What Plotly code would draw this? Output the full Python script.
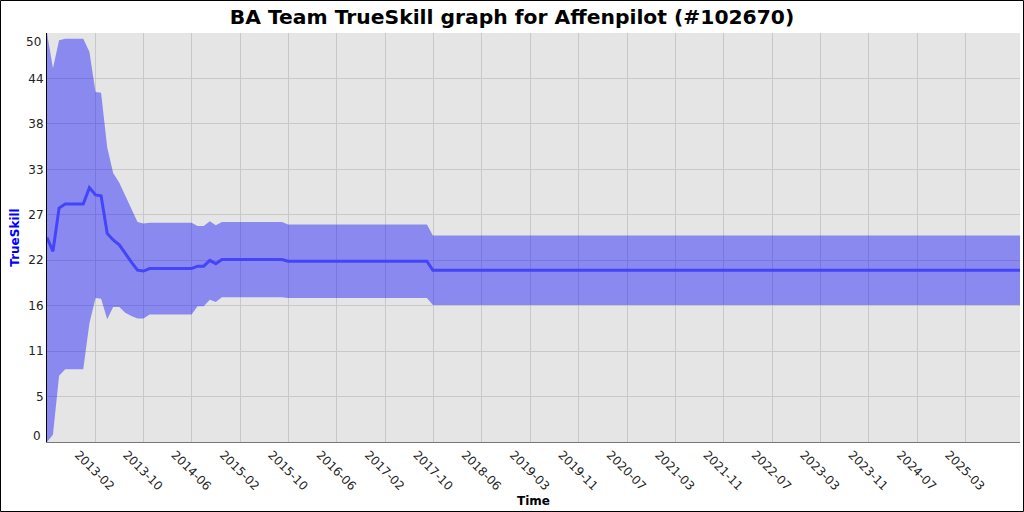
import pandas as pd
import plotly.graph_objects as go

# ---- data ----
dates = [
    "2012-06-26", "2012-07-26", "2012-08-26", "2012-09-26", "2012-12-26",
    "2013-01-26", "2013-02-26", "2013-03-26", "2013-04-26", "2013-05-26",
    "2013-06-26", "2013-07-26", "2013-08-26", "2013-09-26", "2013-10-26",
    "2013-11-26", "2014-06-26", "2014-07-26", "2014-08-26", "2014-09-26",
    "2014-10-26", "2014-11-26", "2015-09-26", "2015-10-26", "2017-09-26",
    "2017-10-26", "2025-12-07",
]
mu = [
    25.0, 23.3, 28.6, 29.1, 29.1,
    31.1, 30.2, 30.1, 25.5, 24.7,
    24.1, 23.0, 22.0, 21.0, 20.9,
    21.2, 21.2, 21.5, 21.5, 22.2,
    21.8, 22.3, 22.3, 22.1, 22.1,
    21.0, 21.0,
]
three_sigma = [
    25.0, 22.4, 20.5, 20.2, 20.2,
    16.6, 12.6, 12.6, 10.5, 8.2,
    7.6, 7.2, 6.6, 5.9, 5.8,
    5.6, 5.6, 4.9, 4.9, 4.8,
    4.7, 4.6, 4.6, 4.5, 4.5,
    4.25, 4.25,
]
upper = [m + s for m, s in zip(mu, three_sigma)]
lower = [m - s for m, s in zip(mu, three_sigma)]

x_tick_labels = [
    "2013-02", "2013-10", "2014-06", "2015-02", "2015-10", "2016-06",
    "2017-02", "2017-10", "2018-06", "2019-03", "2019-11", "2020-07",
    "2021-03", "2021-11", "2022-07", "2023-03", "2023-11", "2024-07",
    "2025-03",
]
y_tick_labels = ["0", "5", "11", "16", "22", "27", "33", "38", "44", "50"]

# ---- layout helpers (axis positions only) ----
tick_start = pd.Timestamp("2013-02-24 02:24")
tick_step = pd.Timedelta(days=244.1)
x_tick_vals = [tick_start + k * tick_step for k in range(len(x_tick_labels))]
y_tick_vals = [k * 50 / 9 for k in range(len(y_tick_labels))]

FONT = "DejaVu Sans"
W, H = 1024, 512
ML, MR, MT, MB = 47, 4, 33, 70
PW, PH = W - ML - MR, H - MT - MB

fig = go.Figure()
fig.add_trace(go.Scatter(
    x=dates, y=lower, mode="lines", line=dict(width=0, color="rgba(0,0,255,0)"),
    hoverinfo="skip", showlegend=False,
))
fig.add_trace(go.Scatter(
    x=dates, y=upper, mode="lines", line=dict(width=0, color="rgba(0,0,255,0)"),
    fill="tonexty", fillcolor="rgba(0,0,255,0.4)", hoverinfo="skip", showlegend=False,
))
fig.add_trace(go.Scatter(
    x=dates, y=mu, mode="lines", line=dict(width=3, color="rgb(68,68,250)"),
    showlegend=False,
))

# inner y tick labels through the axis; end labels drawn just inside like the original
inner_text = [t if 0 < i < len(y_tick_labels) - 1 else "" for i, t in enumerate(y_tick_labels)]

fig.update_layout(
    template="none",
    width=W, height=H,
    margin=dict(l=ML, r=MR, t=MT, b=MB, autoexpand=False),
    paper_bgcolor="white",
    plot_bgcolor="rgb(229,229,229)",
    title=dict(
        text="BA Team TrueSkill graph for Affenpilot (#102670)",
        x=0.5, xanchor="center", y=1 - 17 / H, yanchor="middle",
        font=dict(family=FONT, size=20.3, color="black", weight="bold"),
    ),
    font=dict(family=FONT, size=12, color="#222"),
    xaxis=dict(
        type="date",
        range=[dates[0], dates[-1]],
        tickvals=x_tick_vals, ticktext=x_tick_labels,
        tickangle=45, ticklabelshift=-17,
        tickfont=dict(family=FONT, size=12, color="#222"),
        showgrid=True, gridcolor="rgb(200,200,200)", gridwidth=1,
        zeroline=False, ticks="",
        showline=True, linecolor="rgb(120,120,120)", linewidth=1,
        title=dict(text="Time", font=dict(family=FONT, size=12, color="black", weight="bold"),
                   standoff=4),
    ),
    yaxis=dict(
        range=[0, 50],
        tickvals=y_tick_vals, ticktext=inner_text,
        tickfont=dict(family=FONT, size=12, color="#222"),
        showgrid=True, gridcolor="rgb(200,200,200)", gridwidth=1,
        zeroline=False, ticks="",
        showline=True, linecolor="black", linewidth=1,
        title=dict(text="TrueSkill", font=dict(family=FONT, size=12, color="blue", weight="bold"),
                   standoff=6),
    ),
)

# end y labels (0 and 50) placed slightly inside the plot height, as in the reference
for val, text, dy in [(y_tick_vals[0], y_tick_labels[0], -6), (y_tick_vals[-1], y_tick_labels[-1], 9)]:
    fig.add_annotation(
        x=0, xref="paper", y=val, yref="y", text=text, showarrow=False,
        xanchor="right", yanchor="middle", xshift=-4, yshift=-dy,
        font=dict(family=FONT, size=12, color="#222"),
    )

# image border
fig.add_shape(
    type="rect", xref="paper", yref="paper", layer="above",
    x0=(0.5 - ML) / PW, x1=(W - 0.5 - ML) / PW,
    y0=(MT + PH - (H - 0.5)) / PH, y1=(MT + PH - 0.5) / PH,
    line=dict(color="black", width=1),
)

fig.write_html(
    "out.html",
    config={"displayModeBar": False},
    post_script="document.body.style.margin='0';document.body.style.overflow='hidden';",
)
